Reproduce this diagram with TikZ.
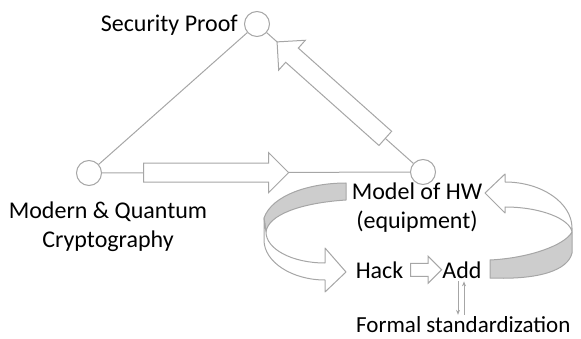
\documentclass[tikz,border=0pt]{standalone}
\usepackage{fontspec}
\setmainfont{Carlito}
\usetikzlibrary{shapes.arrows,arrows.meta,calc}
\definecolor{linegray}{RGB}{166,166,166}
\definecolor{bandgray}{RGB}{205,205,205}
\tikzset{
	dot/.style={circle,draw=linegray,fill=white,line width=1pt,minimum size=25pt,inner sep=0pt},
	txt/.style={font=\fontsize{24}{29}\selectfont,inner sep=0pt},
	fatarrow/.style={single arrow,draw=linegray,fill=white,line width=1pt,inner sep=0pt,
		text height=9pt,text depth=9pt,minimum height=145pt,single arrow head extend=10.5pt},
	smallarrow/.style={single arrow,draw=linegray,fill=white,line width=1pt,inner sep=0pt,
		text height=6pt,text depth=6pt,minimum height=31pt,single arrow head extend=7pt},
	ribbonfront/.style={draw=linegray,fill=white,line width=1pt,line join=round},
	ribbonback/.style={draw=linegray,fill=bandgray,line width=1pt,line join=round},
	thinarrow/.style={draw=linegray,line width=0.8pt,-{Stealth[length=5pt,width=4pt]}}
}
\begin{document}
\begin{tikzpicture}[x=1pt,y=-1pt]
	\useasboundingbox (0,0) rectangle (581,339);
	% the three corners
	\node[dot] (proof) at (257,24) {};
	\node[dot] (crypto) at (89,173) {};
	\node[dot] (hw) at (423,172) {};
	\node[txt,anchor=base east] (proofl) at (238,32) {Security Proof};
	\node[txt,align=center] (cryptol) at (108,227) {Modern \& Quantum\\Cryptography};
	\node[txt,align=center] (hwl) at (417,208) {Model of HW\\(equipment)};
	\draw[linegray,line width=1pt] (crypto) -- (proof);
	\draw[linegray,line width=1pt] (crypto) -- (hw) node[fatarrow,pos=0.355] (toHW) {};
	\draw[linegray,line width=1pt] (hw) -- (proof) node[fatarrow,pos=0.536,sloped,allow upside down] (toProof) {};
	% the loop round the model
	\draw[ribbonback] (346,183) -- (346,200) .. controls (300,203) and (268,215) .. (266,232)
		-- (264,218) .. controls (272,195) and (310,183) .. (346,183) -- cycle;
	\draw[ribbonfront] (264,218) -- (264,240) .. controls (264,262) and (292,280) .. (325,280)
		-- (325,292) -- (346,272) -- (325,248) -- (325,263)
		.. controls (292,263) and (266,249) .. (266,232) -- cycle;
	\draw[ribbonback] (490,260) .. controls (530,258) and (565,245) .. (572,232)
		-- (572,253) .. controls (568,270) and (540,280) .. (490,278) -- cycle;
	\draw[ribbonfront] (572,232) -- (572,228) .. controls (572,203) and (542,182) .. (505,182)
		-- (505,174) -- (485,193) -- (505,213) -- (505,207)
		.. controls (541,207) and (570,219) .. (572,232) -- cycle;
	% hack, add and the standard
	\node[txt,anchor=base] (hack) at (379.5,278) {Hack};
	\node[txt,anchor=base] (add) at (462,278) {Add};
	\node[txt,anchor=base west,font=\fontsize{23}{28}\selectfont] (std) at (356,332) {Formal standardization};
	\node[smallarrow] (hackadd) at ($(hack.east)!0.5!(add.west)$) {};
	\draw[thinarrow] ([xshift=-4pt,yshift=-3pt]add.south) -- ([xshift=-4pt,yshift=1pt]add.south |- std.north);
	\draw[thinarrow] ([xshift=2pt,yshift=1pt]add.south |- std.north) -- ([xshift=2pt,yshift=-3pt]add.south);
\end{tikzpicture}
\end{document}
